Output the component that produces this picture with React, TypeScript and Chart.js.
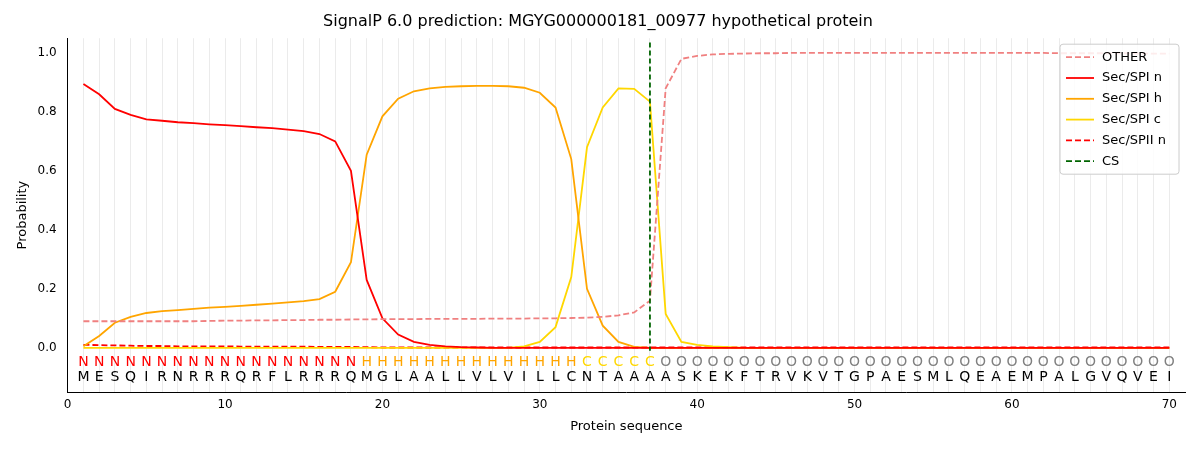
import React, { useEffect, useRef } from "react";
import { Chart, registerables } from "chart.js";
Chart.register(...registerables);

const sequence = "MESQIRNRRRQRFLRRRQMGLAALLVLVILLCNTAAAASKEKFTRVKVTGPAESMLQEAEMPALGVQVEI".split("");
const regions = "NNNNNNNNNNNNNNNNNNHHHHHHHHHHHHHHCCCCCOOOOOOOOOOOOOOOOOOOOOOOOOOOOOOOOO".split("");
const positions = Array.from({ length: 70 }, (_, i) => i + 1);

const other = [0.09,0.09,0.09,0.09,0.09,0.09,0.09,0.09,0.091,0.092,0.092,0.093,0.093,0.094,0.094,0.095,0.095,0.096,0.096,0.097,0.097,0.097,0.098,0.098,0.098,0.098,0.099,0.099,0.099,0.1,0.1,0.101,0.102,0.105,0.11,0.12,0.16,0.88,0.98,0.99,0.995,0.997,0.998,0.999,0.999,1,1,1,1,1,1,1,1,1,1,1,1,1,1,1,1,1,0.999,0.999,0.999,0.999,0.999,0.998,0.998,0.998];
const secN = [0.895,0.86,0.81,0.79,0.775,0.77,0.765,0.762,0.758,0.755,0.752,0.748,0.745,0.74,0.735,0.725,0.7,0.6,0.23,0.1,0.045,0.02,0.01,0.005,0.002,0.001,0,0,0,0,0,0,0,0,0,0,0,0,0,0,0,0,0,0,0,0,0,0,0,0,0,0,0,0,0,0,0,0,0,0,0,0,0,0,0,0,0,0,0,0];
const secH = [0.005,0.04,0.085,0.105,0.118,0.124,0.128,0.132,0.136,0.139,0.142,0.146,0.15,0.154,0.158,0.165,0.19,0.29,0.655,0.785,0.845,0.87,0.88,0.885,0.887,0.888,0.888,0.887,0.882,0.865,0.815,0.64,0.2,0.075,0.02,0.003,0,0,0,0,0,0,0,0,0,0,0,0,0,0,0,0,0,0,0,0,0,0,0,0,0,0,0,0,0,0,0,0,0,0];
const secC = [0,0,0,0,0,0,0,0,0,0,0,0,0,0,0,0,0,0,0,0,0,0,0,0,0,0,0,0,0.005,0.02,0.07,0.24,0.68,0.815,0.88,0.878,0.835,0.115,0.02,0.01,0.005,0.002,0,0,0,0,0,0,0,0,0,0,0,0,0,0,0,0,0,0,0,0,0,0,0,0,0,0,0,0];
const spiiN = [0.01,0.009,0.008,0.007,0.006,0.006,0.005,0.005,0.005,0.005,0.004,0.004,0.004,0.004,0.004,0.003,0.003,0.003,0.002,0.001,0.001,0.001,0.001,0.001,0.001,0.001,0.001,0.001,0.001,0.001,0.001,0.001,0.001,0.001,0.001,0.001,0.001,0.001,0.001,0.001,0.001,0.001,0.001,0.001,0.001,0.001,0.001,0.001,0.001,0.001,0.001,0.001,0.001,0.001,0.001,0.001,0.001,0.001,0.001,0.001,0.001,0.001,0.001,0.001,0.001,0.001,0.001,0.001,0.001,0.001];
const csPos = 37;
const regionColors: Record<string, string> = { N: "#ff0000", H: "#ffa500", C: "#ffd700", O: "#808080" };

const legendItems = [
  { label: "OTHER", color: "#f08080", dash: [6, 3] },
  { label: "Sec/SPI n", color: "#ff0000", dash: [] },
  { label: "Sec/SPI h", color: "#ffa500", dash: [] },
  { label: "Sec/SPI c", color: "#ffd700", dash: [] },
  { label: "Sec/SPII n", color: "#ff0000", dash: [6, 3] },
  { label: "CS", color: "#006400", dash: [6, 3] },
];

export default function App() {
  const ref = useRef<HTMLCanvasElement>(null);
  useEffect(() => {
    const font = "'DejaVu Sans', sans-serif";
    const mk = (label: string, data: number[], color: string, dash: number[]) => ({
      label, data: data.map((y, i) => ({ x: positions[i], y })), borderColor: color, backgroundColor: color,
      borderDash: dash, borderWidth: 1.8, pointRadius: 0, tension: 0, fill: false,
    });
    const overlay = {
      id: "overlay",
      afterDatasetsDraw(chart: any) {
        const { ctx, scales: { x, y }, chartArea } = chart;
        ctx.save();
        ctx.strokeStyle = "#006400"; ctx.lineWidth = 1.8; ctx.setLineDash([5, 3]);
        ctx.beginPath(); ctx.moveTo(x.getPixelForValue(csPos), y.getPixelForValue(1.035));
        ctx.lineTo(x.getPixelForValue(csPos), y.getPixelForValue(-0.01)); ctx.stroke();
        ctx.setLineDash([]);
        ctx.font = `14px ${font}`; ctx.textAlign = "center"; ctx.textBaseline = "middle";
        positions.forEach((p, i) => {
          const px = x.getPixelForValue(p);
          ctx.fillStyle = regionColors[regions[i]];
          ctx.fillText(regions[i], px, y.getPixelForValue(-0.048));
          ctx.fillStyle = "#000";
          ctx.fillText(sequence[i], px, y.getPixelForValue(-0.102));
        });
        const lx = chartArea.right - 125, ly = chartArea.top + 6, w = 119, h = 130;
        ctx.fillStyle = "rgba(255,255,255,0.85)"; ctx.strokeStyle = "#cccccc"; ctx.lineWidth = 1;
        ctx.beginPath(); ctx.roundRect(lx, ly, w, h, 3); ctx.fill(); ctx.stroke();
        ctx.textAlign = "left"; ctx.font = `13px ${font}`;
        legendItems.forEach((it, i) => {
          const yy = ly + 13 + i * 20.8;
          ctx.strokeStyle = it.color; ctx.lineWidth = 1.8; ctx.setLineDash(it.dash);
          ctx.beginPath(); ctx.moveTo(lx + 6, yy); ctx.lineTo(lx + 34, yy); ctx.stroke();
          ctx.setLineDash([]);
          ctx.fillStyle = "#000"; ctx.fillText(it.label, lx + 42, yy);
        });
        ctx.restore();
      },
    };
    const chart = new Chart(ref.current!, {
      type: "line",
      data: { datasets: [
        mk("OTHER", other, "#f08080", [6, 3]),
        mk("Sec/SPI n", secN, "#ff0000", []),
        mk("Sec/SPI h", secH, "#ffa500", []),
        mk("Sec/SPI c", secC, "#ffd700", []),
        mk("Sec/SPII n", spiiN, "#ff0000", [6, 3]),
      ] },
      options: {
        animation: false, responsive: false, maintainAspectRatio: false,
        layout: { padding: { left: 11, right: 15, top: 0, bottom: 16 } },
        plugins: {
          legend: { display: false }, tooltip: { enabled: false },
          title: { display: true, text: "SignalP 6.0 prediction: MGYG000000181_00977 hypothetical protein", color: "#000", font: { family: font, size: 16, weight: "normal" }, padding: { top: 12, bottom: 7 } },
        },
        scales: {
          x: {
            type: "linear", min: 0, max: 71,
            afterBuildTicks: (s: any) => { s.ticks = Array.from({ length: 71 }, (_, i) => ({ value: i })); },
            ticks: { autoSkip: false, maxRotation: 0, padding: 6, color: "#000", font: { family: font, size: 12 }, callback: (v: any) => (v % 10 === 0 ? String(v) : "") },
            grid: { color: (c: any) => (c.tick && c.tick.value >= 1 && c.tick.value <= 70 ? "rgba(0,0,0,0.08)" : "rgba(0,0,0,0)"), drawTicks: false },
            border: { color: "#000" },
            title: { display: true, text: "Protein sequence", color: "#000", font: { family: font, size: 13 }, padding: { top: 0, bottom: 0 } },
          },
          y: {
            min: -0.15, max: 1.05,
            afterBuildTicks: (s: any) => { s.ticks = [0, 0.2, 0.4, 0.6, 0.8, 1.0].map((v) => ({ value: v })); },
            ticks: { color: "#000", font: { family: font, size: 12 }, callback: (v: any) => Number(v).toFixed(1) },
            grid: { display: false },
            border: { color: "#000" },
            title: { display: true, text: "Probability", color: "#000", font: { family: font, size: 13 } },
          },
        },
      },
      plugins: [overlay],
    } as any);
    return () => chart.destroy();
  }, []);
  return (
    <div style={{ position: "fixed", left: 0, top: 0, width: 1200, height: 450, background: "#fff" }}>
      <canvas ref={ref} width={1200} height={450} style={{ width: 1200, height: 450 }} />
    </div>
  );
}
